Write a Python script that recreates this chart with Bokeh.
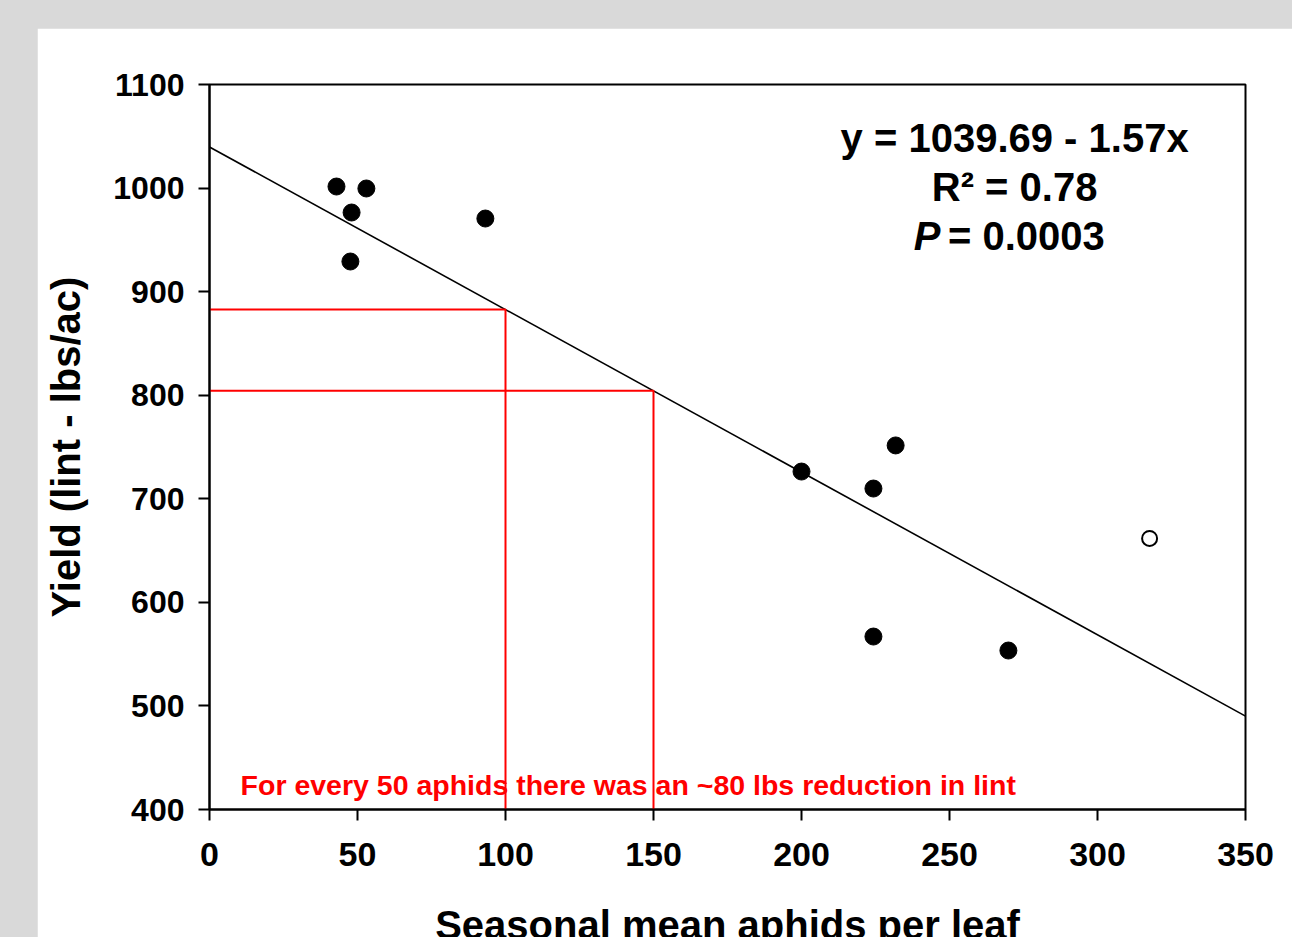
from bokeh.plotting import figure
from bokeh.models import Range1d, FixedTicker, Label
from bokeh.layouts import column
from bokeh.embed import file_html
from bokeh.resources import INLINE

# ---- data ----
aphids = [42.9, 53.0, 48.0, 47.6, 93.2, 200.0, 224.3, 231.8, 224.3, 269.9]
yield_lint = [1001.5, 999.6, 976.4, 929.1, 970.6, 726.3, 709.9, 751.5, 567.0, 553.5]
outlier_aphids = [317.6]
outlier_yield = [661.7]
intercept = 1039.69
slope = -1.57
fit_x = [0, 350]
ref_x = [100, 150]
x_ticks = [0, 50, 100, 150, 200, 250, 300, 350]
y_ticks = [400, 500, 600, 700, 800, 900, 1000, 1100]

FONT = "Liberation Sans"

p = figure(width=1255, height=909, output_backend="svg", toolbar_location=None,
           x_range=Range1d(0, 350), y_range=Range1d(400, 1100),
           frame_width=1036, frame_height=725,
           min_border_left=172, min_border_right=47, min_border_top=56, min_border_bottom=128)
p.margin = (28, 0, 0, 37)
p.border_fill_color = "white"
p.background_fill_color = "white"
p.outline_line_color = "black"
p.outline_line_width = 2
p.xgrid.visible = False
p.ygrid.visible = False

for ax in (p.xaxis[0], p.yaxis[0]):
    ax.axis_line_width = 2
    ax.major_tick_line_width = 2
    ax.major_tick_in = 0
    ax.major_tick_out = 11
    ax.minor_tick_line_color = None
    ax.major_label_text_font = FONT
    ax.major_label_text_font_style = "bold"
    ax.major_label_text_color = "black"
    ax.axis_label_text_font = FONT
    ax.axis_label_text_font_style = "bold"
    ax.axis_label_text_color = "black"

p.xaxis.ticker = FixedTicker(ticks=x_ticks)
p.yaxis.ticker = FixedTicker(ticks=y_ticks)
p.xaxis.major_label_text_font_size = "34px"
p.yaxis.major_label_text_font_size = "32px"
p.xaxis.major_label_standoff = 22
p.yaxis.major_label_standoff = 14
p.xaxis.axis_label = "Seasonal mean aphids per leaf"
p.yaxis.axis_label = "Yield (lint - lbs/ac)"
p.xaxis.axis_label_text_font_size = "40px"
p.yaxis.axis_label_text_font_size = "40px"
p.xaxis.axis_label_standoff = 34
p.yaxis.axis_label_standoff = 22

# regression line
fit_y = [intercept + slope * v for v in fit_x]
p.line(fit_x, fit_y, line_color="black", line_width=1.6)

# reference red lines
for rx in ref_x:
    ry = intercept + slope * rx
    p.line([0, rx, rx], [ry, ry, 400], line_color="#ff0000", line_width=2)

# points
p.scatter(aphids, yield_lint, size=17, marker="circle", fill_color="black", line_color="black")
p.scatter(outlier_aphids, outlier_yield, size=15, marker="circle", fill_color="white",
          line_color="black", line_width=2)

# equation text
eq_x = 272
EQ_SIZE = "40px"
p.add_layout(Label(x=eq_x, y=1048.8, text="y = 1039.69 - 1.57x", text_align="center",
                   text_baseline="middle", text_font=FONT, text_font_style="bold",
                   text_font_size=EQ_SIZE, text_color="black"))
p.add_layout(Label(x=eq_x, y=1000.6, text="R² = 0.78", text_align="center",
                   text_baseline="middle", text_font=FONT, text_font_style="bold",
                   text_font_size=EQ_SIZE, text_color="black"))
p.add_layout(Label(x=246.9, y=954.2, text="P", text_align="right",
                   text_baseline="middle", text_font=FONT, text_font_style="bold italic",
                   text_font_size=EQ_SIZE, text_color="black"))
p.add_layout(Label(x=249.5, y=954.2, text="= 0.0003", text_align="left",
                   text_baseline="middle", text_font=FONT, text_font_style="bold",
                   text_font_size=EQ_SIZE, text_color="black"))

p.add_layout(Label(x=10.5, y=423.2, text="For every 50 aphids there was an ~80 lbs reduction in lint",
                   text_align="left", text_baseline="middle", text_font=FONT,
                   text_font_style="bold", text_font_size="28.5px", text_color="#ff0000"))

layout = column(p, styles={"background-color": "#d9d9d9"})

open("out.html", "w").write(file_html(layout, INLINE))
